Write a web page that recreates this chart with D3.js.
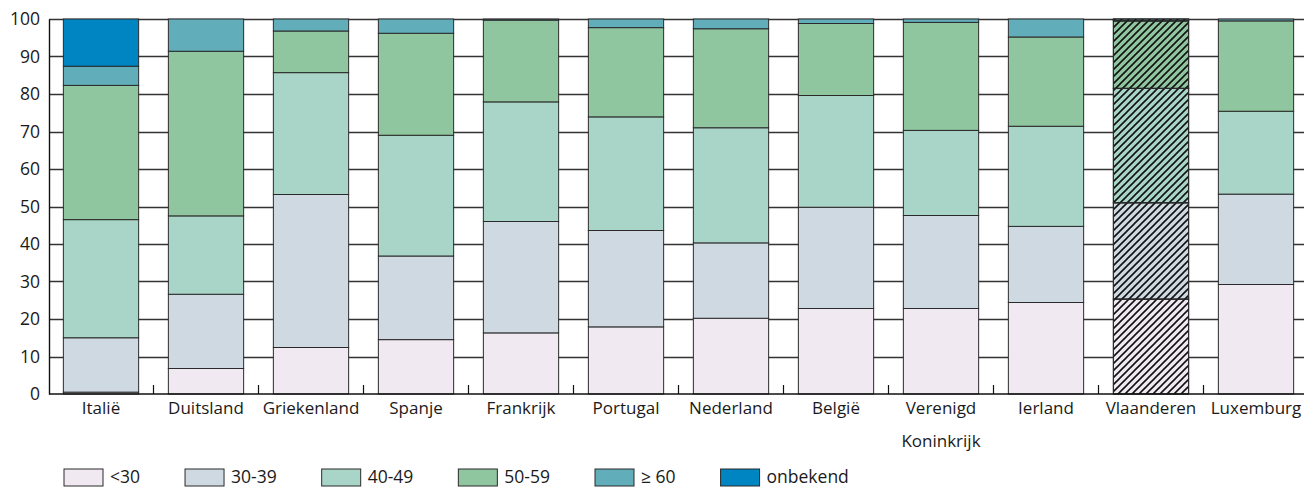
<!DOCTYPE html>
<html>
<head>
<meta charset="utf-8">
<script src="https://cdn.jsdelivr.net/npm/d3@7"></script>
<style>
  html, body { margin: 0; padding: 0; background: #fff; }
  svg { display: block; }
  text { font-family: "Open Sans", "Noto Sans", sans-serif; fill: #1a1a1a; }
</style>
</head>
<body>
<svg id="chart" width="1304" height="488"></svg>
<script>
const categories = ["Italië", "Duitsland", "Griekenland", "Spanje", "Frankrijk", "Portugal",
  "Nederland", "België", "Verenigd Koninkrijk", "Ierland", "Vlaanderen", "Luxemburg"];
const seriesNames = ["<30", "30-39", "40-49", "50-59", "≥ 60", "onbekend"];
const under30   = [0.5, 6.8, 12.4, 14.5, 16.3, 17.9, 20.2, 22.8, 22.8, 24.4, 25.3, 29.2];
const age30_39  = [14.5, 19.8, 40.8, 22.3, 29.7, 25.7, 20.1, 27.0, 24.8, 20.3, 25.7, 24.1];
const age40_49  = [31.5, 20.9, 32.5, 32.2, 31.9, 30.3, 30.7, 29.8, 22.7, 26.7, 30.5, 22.1];
const age50_59  = [35.8, 43.9, 11.1, 27.2, 21.8, 23.8, 26.4, 19.2, 28.8, 23.8, 18.0, 24.1];
const age60plus = [5.1, 8.6, 3.2, 3.8, 0.3, 2.3, 2.6, 1.2, 0.9, 4.8, 0.5, 0.5];
const unknown   = [12.6, 0, 0, 0, 0, 0, 0, 0, 0, 0, 0, 0];
const hatchedCategories = ["Vlaanderen"];
const yTicks = [0, 10, 20, 30, 40, 50, 60, 70, 80, 90, 100];
const colors = ["#f0e9f1", "#cfd9e2", "#a8d5c7", "#8fc69f", "#61aeba", "#0085c3"];

const seriesValues = [under30, age30_39, age40_49, age50_59, age60plus, unknown];
const table = categories.map((c, i) => {
  const row = { cat: c };
  seriesNames.forEach((s, k) => row[s] = seriesValues[k][i]);
  return row;
});
const stacked = d3.stack().keys(seriesNames)(table);

const svg = d3.select("#chart");
const x = d3.scaleBand().domain(categories).range([48.5, 1308.5]).paddingInner(0.283).paddingOuter(0.1415);
const y = d3.scaleLinear().domain([0, 100]).range([394, 19]);
const color = d3.scaleOrdinal().domain(seriesNames).range(colors);

// hatch pattern
const defs = svg.append("defs");
const hs = 7;
const pat = defs.append("pattern").attr("id", "hatch").attr("patternUnits", "userSpaceOnUse")
  .attr("width", hs).attr("height", hs);
pat.append("path").attr("d", `M-2,2 L2,-2 M0,${hs} L${hs},0 M${hs - 2},${hs + 2} L${hs + 2},${hs - 2}`)
  .attr("stroke", "#111").attr("stroke-width", 1.6);

// gridlines
svg.append("g").selectAll("line").data(yTicks.filter(t => t > 0)).join("line")
  .attr("x1", 49).attr("x2", 1304)
  .attr("y1", d => Math.round(y(d)) + 0.5).attr("y2", d => Math.round(y(d)) + 0.5)
  .attr("stroke", "#333").attr("stroke-width", 1.4);

// bars
const layers = svg.append("g").selectAll("g").data(stacked).join("g")
  .attr("fill", d => color(d.key));
layers.selectAll("rect").data(d => d.filter(p => p[1] - p[0] > 0)).join("rect")
  .attr("x", d => x(d.data.cat))
  .attr("width", x.bandwidth())
  .attr("y", d => y(d[1]))
  .attr("height", d => y(d[0]) - y(d[1]))
  .attr("stroke", "#2a2a2a").attr("stroke-width", 1);

// hatch overlay
const hatchLayer = svg.append("g");
stacked.forEach(layer => {
  hatchLayer.selectAll(null).data(layer.filter(p => hatchedCategories.includes(p.data.cat) && p[1] - p[0] > 0))
    .join("rect")
    .attr("x", d => x(d.data.cat))
    .attr("width", x.bandwidth())
    .attr("y", d => y(d[1]))
    .attr("height", d => y(d[0]) - y(d[1]))
    .attr("fill", "url(#hatch)")
    .attr("stroke", "#2a2a2a").attr("stroke-width", 1);
});

// y axis
const yAxis = svg.append("g").attr("transform", "translate(49,0)")
  .call(d3.axisLeft(y).tickValues(yTicks).tickSize(0).tickSizeOuter(0).tickPadding(9));
yAxis.select(".domain").attr("stroke", "#111").attr("stroke-width", 1.4);
yAxis.selectAll("text").style("font-size", "17.5px").style("font-family", "'Open Sans', sans-serif").attr("fill", "#1a1a1a");

// x baseline & boundary ticks
svg.append("line").attr("x1", 49).attr("x2", 1304).attr("y1", 394).attr("y2", 394)
  .attr("stroke", "#111").attr("stroke-width", 1.6);
const boundaries = categories.slice(1).map(c => x(c) - x.step() * x.paddingInner() / 2);
svg.append("g").selectAll("line").data(boundaries).join("line")
  .attr("x1", d => d).attr("x2", d => d).attr("y1", 385).attr("y2", 394)
  .attr("stroke", "#111").attr("stroke-width", 1.2);

// x labels
const xAxis = svg.append("g").attr("transform", "translate(0,394)")
  .call(d3.axisBottom(x).tickSize(0).tickPadding(0));
xAxis.select(".domain").remove();
xAxis.selectAll("text").each(function(d) {
  const t = d3.select(this);
  const words = d.split(" ");
  t.text(null).attr("y", 0).attr("dy", null)
    .style("font-size", "17px").style("font-family", "'Open Sans', sans-serif").attr("fill", "#1a1a1a");
  words.forEach((w, i) => t.append("tspan").attr("x", 0).attr("y", 20 + i * 33).text(w));
});

// legend
const legend = svg.append("g");
let lx = 64;
seriesNames.forEach((s, i) => {
  const g = legend.append("g").attr("transform", `translate(${lx},469)`);
  g.append("rect").attr("width", 39).attr("height", 17).attr("fill", color(s))
    .attr("stroke", "#2a2a2a").attr("stroke-width", 1);
  const t = g.append("text").attr("x", 46).attr("y", 14).style("font-size", "17.5px").text(s);
  lx += 46 + t.node().getComputedTextLength() + 45;
});
</script>
</body>
</html>
